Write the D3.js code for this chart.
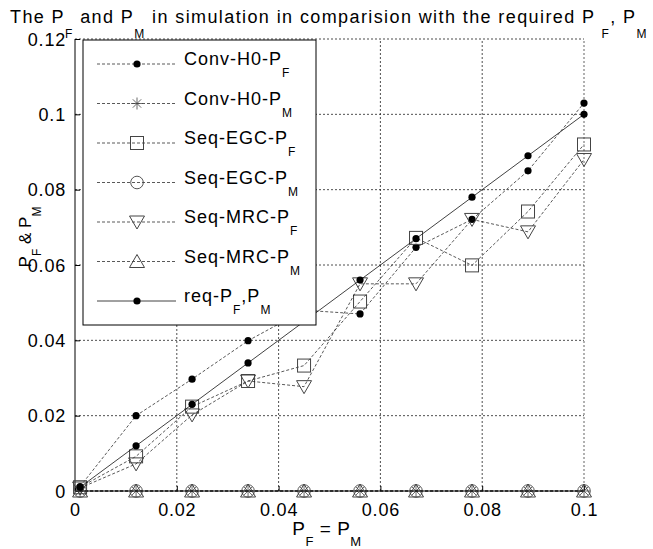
<!DOCTYPE html>
<html>
<head>
<meta charset="utf-8">
<script src="https://cdn.jsdelivr.net/npm/d3@7"></script>
<style>
  body { margin: 0; background: #fff; }
  svg { display: block; font-family: "Liberation Sans", Arial, sans-serif; }
</style>
</head>
<body>
<div id="chart"></div>
<script>
var xs     = [0.001, 0.012, 0.023, 0.034, 0.045, 0.056, 0.067, 0.078, 0.089, 0.1];
var convPF = [0.0012, 0.020, 0.0297, 0.0399, 0.048, 0.047, 0.0647, 0.0721, 0.085, 0.103];
var convPM = [0, 0, 0, 0, 0, 0, 0, 0, 0, 0];
var egcPF  = [0.001, 0.0092, 0.0224, 0.0292, 0.0333, 0.0503, 0.0672, 0.0599, 0.0742, 0.092];
var egcPM  = [0, 0, 0, 0, 0, 0, 0, 0, 0, 0];
var mrcPF  = [0.0008, 0.0072, 0.0202, 0.0292, 0.0277, 0.055, 0.055, 0.0721, 0.0688, 0.088];
var mrcPM  = [0, 0, 0, 0, 0, 0, 0, 0, 0, 0];
var reqP   = [0.001, 0.012, 0.023, 0.034, 0.045, 0.056, 0.067, 0.078, 0.089, 0.1];

var xTicks = [0, 0.02, 0.04, 0.06, 0.08, 0.1];
var yTicks = [0, 0.02, 0.04, 0.06, 0.08, 0.1, 0.12];

// label parts: [main text, subscript] pairs
var series = [
    { label: [["Conv-H0-P", "F"]], values: convPF, marker: "dot", dash: "3,2" },
    { label: [["Conv-H0-P", "M"]], values: convPM, marker: "star", dash: "3,2" },
    { label: [["Seq-EGC-P", "F"]], values: egcPF, marker: "square", dash: "3,2" },
    { label: [["Seq-EGC-P", "M"]], values: egcPM, marker: "circle", dash: "3,2" },
    { label: [["Seq-MRC-P", "F"]], values: mrcPF, marker: "tridown", dash: "3,2" },
    { label: [["Seq-MRC-P", "M"]], values: mrcPM, marker: "triup", dash: "3,2" },
    { label: [["req-P", "F"], [",P", "M"]], values: reqP, marker: "dot", dash: null }
];

var titleParts = [["The P", "F"], [" and P", "M"], [" in simulation in comparision with the required P ", "F"], [", P", "M"]];
var xLabelParts = [["P", "F"], [" = P", "M"]];
var yLabelParts = [["P", "F"], [" & P", "M"]];

var W = 653, H = 549;
var svg = d3.select("#chart").append("svg").attr("width", W).attr("height", H);

var x = d3.scaleLinear().domain([0, 0.1]).range([75, 584]);
var y = d3.scaleLinear().domain([0, 0.12]).range([491, 39]);

function fmt(v) { return v === 0 ? "0" : String(+v.toFixed(2)); }

// text with subscripts
function subText(t, parts, subSize, drop) {
    parts.forEach(function (p, i) {
        t.append("tspan").attr("dy", i > 0 ? -drop : 0).text(p[0]);
        t.append("tspan").attr("dy", drop).style("font-size", subSize + "px").text(p[1]);
    });
}

// grid
svg.append("g").selectAll("line").data(xTicks.slice(1)).enter().append("line")
    .attr("x1", function (d) { return x(d); }).attr("x2", function (d) { return x(d); })
    .attr("y1", y(0)).attr("y2", y(0.12))
    .style("stroke", function (d) { return d === 0.1 ? "#888" : "#222"; })
    .style("stroke-width", function (d) { return d === 0.1 ? 1.3 : 0.8; })
    .style("stroke-dasharray", "2,2");
svg.append("g").selectAll("line").data(yTicks.slice(1)).enter().append("line")
    .attr("x1", x(0)).attr("x2", x(0.1))
    .attr("y1", function (d) { return y(d); }).attr("y2", function (d) { return y(d); })
    .style("stroke", function (d) { return d === 0.12 ? "#888" : "#222"; })
    .style("stroke-width", function (d) { return d === 0.12 ? 1.3 : 0.8; })
    .style("stroke-dasharray", "2,2");

// axes
var xAxis = d3.axisBottom(x).tickValues(xTicks).tickSize(-5).tickPadding(12).tickFormat(fmt);
var yAxis = d3.axisLeft(y).tickValues(yTicks).tickSize(-5).tickPadding(9).tickFormat(fmt);
var gx = svg.append("g").attr("transform", "translate(0," + y(0) + ")").call(xAxis);
var gy = svg.append("g").attr("transform", "translate(" + x(0) + ",0)").call(yAxis);
[gx, gy].forEach(function (g) {
    g.select(".domain").style("stroke", "#000").style("stroke-width", 1);
    g.selectAll(".tick line").style("stroke", "#000");
    g.selectAll(".tick text").style("font-size", "18px").style("fill", "#000")
        .style("font-family", "'Liberation Sans', Arial, sans-serif").style("letter-spacing", "0.8px");
});
gx.selectAll(".tick text").attr("dy", "0.71em");
gy.selectAll(".tick text").attr("dy", "0.35em");
gx.select(".domain").attr("d", "M" + x(0) + ",0H" + x(0.1));
gy.select(".domain").attr("d", "M0," + y(0) + "V" + y(0.12));

// markers
function drawMarker(g, type, cx, cy) {
    var s = "#444";
    if (type === "dot") {
        g.append("circle").attr("cx", cx).attr("cy", cy).attr("r", 3.6).style("fill", "#000");
    } else if (type === "square") {
        g.append("rect").attr("x", cx - 6.5).attr("y", cy - 6.5).attr("width", 13).attr("height", 13)
            .style("fill", "none").style("stroke", s).style("stroke-width", 1);
    } else if (type === "circle") {
        g.append("circle").attr("cx", cx).attr("cy", cy).attr("r", 6.3)
            .style("fill", "none").style("stroke", s).style("stroke-width", 0.9);
    } else if (type === "tridown") {
        g.append("path").attr("d", "M" + (cx - 7.5) + "," + (cy - 6) + "L" + (cx + 7.5) + "," + (cy - 6) + "L" + cx + "," + (cy + 7) + "Z")
            .style("fill", "none").style("stroke", s).style("stroke-width", 1);
    } else if (type === "triup") {
        g.append("path").attr("d", "M" + (cx - 7.5) + "," + (cy + 6) + "L" + (cx + 7.5) + "," + (cy + 6) + "L" + cx + "," + (cy - 7) + "Z")
            .style("fill", "none").style("stroke", s).style("stroke-width", 1);
    } else if (type === "star") {
        var r = 6, k = r * 0.7;
        var p = "M" + (cx - r) + "," + cy + "H" + (cx + r) +
            "M" + cx + "," + (cy - r) + "V" + (cy + r) +
            "M" + (cx - k) + "," + (cy - k) + "L" + (cx + k) + "," + (cy + k) +
            "M" + (cx - k) + "," + (cy + k) + "L" + (cx + k) + "," + (cy - k);
        g.append("path").attr("d", p).style("stroke", s).style("stroke-width", 0.8).style("fill", "none");
    }
}

var line = d3.line().x(function (d) { return x(d[0]); }).y(function (d) { return y(d[1]); });

var plot = svg.append("g");
series.forEach(function (s) {
    var pts = xs.map(function (v, i) { return [v, s.values[i]]; });
    plot.append("path").datum(pts).attr("d", line)
        .style("fill", "none").style("stroke", "#111")
        .style("stroke-width", s.dash ? 0.7 : 0.8)
        .style("stroke-dasharray", s.dash);
    var mg = plot.append("g");
    pts.forEach(function (p) { drawMarker(mg, s.marker, x(p[0]), y(p[1])); });
});

// legend
var leg = svg.append("g");
leg.append("rect").attr("x", 83).attr("y", 40).attr("width", 233).attr("height", 285)
    .style("fill", "#fff").style("stroke", "#000").style("stroke-width", 1);
series.forEach(function (s, i) {
    var cy = 64 + i * 39.5;
    leg.append("line").attr("x1", 97).attr("x2", 176).attr("y1", cy).attr("y2", cy)
        .style("stroke", "#111").style("stroke-width", s.dash ? 0.7 : 0.8)
        .style("stroke-dasharray", s.dash);
    drawMarker(leg, s.marker, 137, cy);
    var t = leg.append("text").attr("x", 184).attr("y", cy + 1)
        .style("font-size", "18px").style("letter-spacing", "1px");
    subText(t, s.label, 12, 12);
});

// title
var title = svg.append("text").attr("x", 10).attr("y", 23)
    .style("font-size", "18px").style("letter-spacing", "1.4px");
subText(title, titleParts, 12, 15);

// x label
var xl = svg.append("text").attr("x", 327).attr("y", 535).attr("text-anchor", "middle")
    .style("font-size", "19px").style("letter-spacing", "0.5px");
subText(xl, xLabelParts, 13, 11);

// y label
var yl = svg.append("text").attr("transform", "translate(31,237) rotate(-90)")
    .attr("text-anchor", "middle").style("font-size", "17px");
subText(yl, yLabelParts, 12, 10);
</script>
</body>
</html>
